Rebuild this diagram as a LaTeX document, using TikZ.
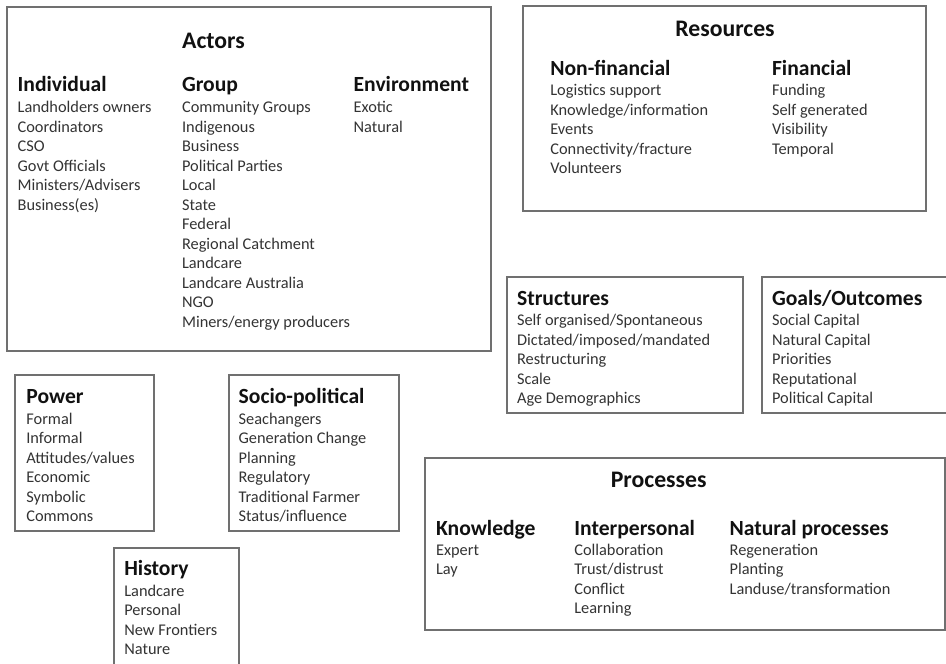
\documentclass[tikz,border=0pt]{standalone}
\usepackage{fontspec}
\setmainfont{Carlito}

\definecolor{boxgray}{HTML}{707070}
\definecolor{itemgray}{HTML}{333333}
\definecolor{headblack}{HTML}{111111}

\tikzset{
    frame/.style={draw=boxgray, line width=1pt},
    boxtitle/.style={anchor=base, inner sep=0pt, text=headblack, font=\bfseries\fontsize{13.5}{16}\selectfont},
    head/.style={anchor=base west, inner sep=0pt, text=headblack, font=\bfseries\fontsize{12.3}{14}\selectfont},
    item/.style={anchor=base west, inner sep=0pt, text=itemgray, font=\fontsize{9.3}{11}\selectfont}
}

% one column of entries, 19.5px apart
\newcommand{\entrycol}[4]{%
    \foreach \t [count=\i] in {#4}
        \node[item] (#1-\i) at (#2,{#3+(\i-1)*19.5}) {\t};
}

\begin{document}
\begin{tikzpicture}[x=0.02cm, y=-0.02cm]
    \clip (0,0) rectangle (946,663);

    % Actors
    \draw[frame] (7,7) rectangle (491,351);
    \node[boxtitle] (actors) at (213.5,48.3) {Actors};
    \node[head] (indiv) at (17.3,91.7) {Individual};
    \node[head] (group) at (181.7,91.7) {Group};
    \node[head] (env) at (353.3,91.7) {Environment};
    \entrycol{indiv}{17.3}{112.7}{Landholders owners, Coordinators, CSO, Govt Officials, Ministers/Advisers, Business(es)}
    \entrycol{group}{181.7}{112.7}{Community Groups, Indigenous, Business, Political Parties, Local, State, Federal, Regional Catchment, Landcare, Landcare Australia, NGO, Miners/energy producers}
    \entrycol{env}{353.3}{112.7}{Exotic, Natural}

    % Resources
    \draw[frame] (523,6) rectangle (926,211);
    \node[boxtitle] (res) at (725,36) {Resources};
    \node[head] (nonfin) at (550,75) {Non-financial};
    \node[head] (fin) at (771.7,75) {Financial};
    \entrycol{nonfin}{550}{95.7}{Logistics support, Knowledge/information, Events, Connectivity/fracture, Volunteers}
    \entrycol{fin}{771.7}{95.7}{Funding, Self generated, Visibility, Temporal}

    % Structures
    \draw[frame] (507,277) rectangle (743,413);
    \node[head] (struct) at (516.7,305) {Structures};
    \entrycol{struct}{516.7}{325.7}{Self organised/Spontaneous, Dictated/imposed/mandated, Restructuring, Scale, Age Demographics}

    % Goals/Outcomes
    \draw[frame] (762,277) rectangle (950,413);
    \node[head] (goals) at (771.7,305) {Goals/Outcomes};
    \entrycol{goals}{771.7}{325.7}{Social Capital, Natural Capital, Priorities, Reputational, Political Capital}

    % Power
    \draw[frame] (15,375) rectangle (154,531);
    \node[head] (power) at (26,403.3) {Power};
    \entrycol{power}{26}{424}{Formal, Informal, Attitudes/values, Economic, Symbolic, Commons}

    % Socio-political
    \draw[frame] (229,375) rectangle (399,531);
    \node[head] (socio) at (238.3,403.3) {Socio-political};
    \entrycol{socio}{238.3}{424}{Seachangers, Generation Change, Planning, Regulatory, Traditional Farmer, Status/influence}

    % History
    \draw[frame] (114,548) rectangle (239,680);
    \node[head] (hist) at (124,575) {History};
    \entrycol{hist}{124}{596}{Landcare, Personal, New Frontiers, Nature}

    % Processes
    \draw[frame] (425,458) rectangle (945,630);
    \node[boxtitle] (proc) at (658.7,487.3) {Processes};
    \node[head] (know) at (435.7,535) {Knowledge};
    \node[head] (inter) at (574,535) {Interpersonal};
    \node[head] (nat) at (729.3,535) {Natural processes};
    \entrycol{know}{435.7}{555}{Expert, Lay}
    \entrycol{inter}{574}{555}{Collaboration, Trust/distrust, Conflict, Learning}
    \entrycol{nat}{729.3}{555}{Regeneration, Planting, Landuse/transformation}
\end{tikzpicture}
\end{document}
